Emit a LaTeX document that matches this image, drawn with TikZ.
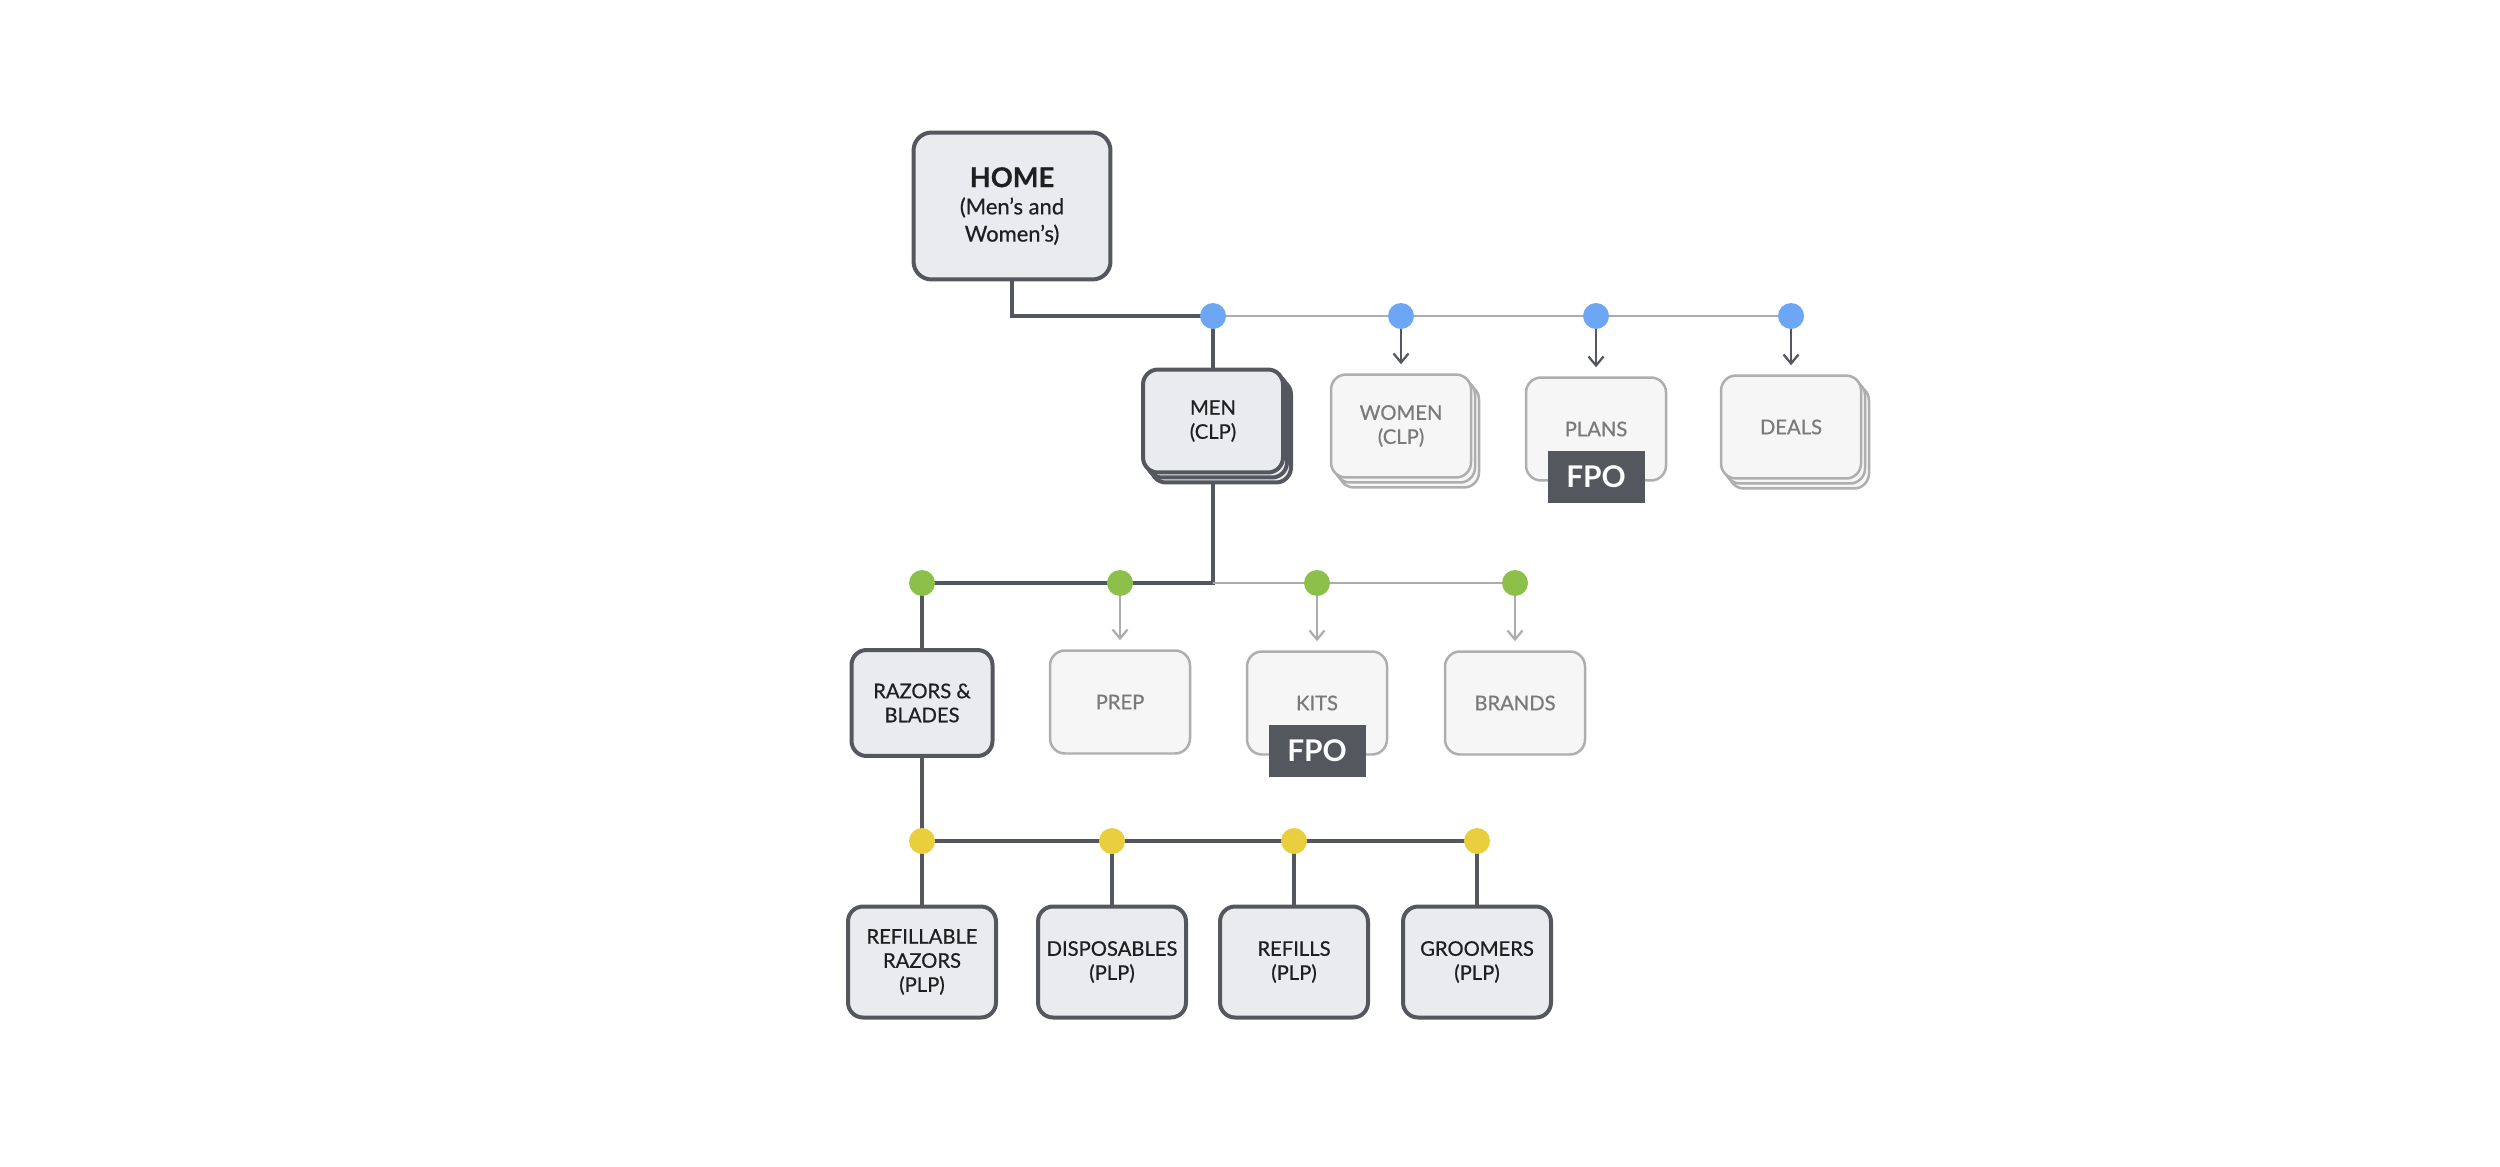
\documentclass[tikz,border=0pt]{standalone}
\usepackage{fontspec}
\setmainfont{Lato}
\newfontfamily\boxfont{Lato}[FakeBold=0.6]
\usetikzlibrary{positioning,shadows,arrows.meta,backgrounds}
\definecolor{slate}{RGB}{85,87,94}
\definecolor{pagefill}{RGB}{234,235,239}
\definecolor{ghostfill}{RGB}{246,246,247}
\definecolor{ghostdraw}{RGB}{174,174,174}
\definecolor{ghosttext}{RGB}{122,122,122}
\definecolor{ghostline}{RGB}{172,172,172}
\definecolor{dotblue}{RGB}{110,166,246}
\definecolor{dotgreen}{RGB}{140,192,74}
\definecolor{dotyellow}{RGB}{233,207,61}
\tikzstyle{pagebox} = [rectangle, rounded corners=0.3cm, draw=slate, line width=0.08cm, fill=pagefill,
  minimum width=2.8cm, minimum height=2.06cm, inner sep=0pt, align=center, text=black!88,
  font=\boxfont\fontsize{11.5}{13.7}\selectfont]
\tikzstyle{ghostbox} = [pagebox, draw=ghostdraw, line width=0.05cm, fill=ghostfill, text=ghosttext]
\tikzstyle{leafbox} = [pagebox, minimum width=2.96cm, minimum height=2.22cm]
\tikzstyle{stack} = [double copy shadow={shadow xshift=0.08cm, shadow yshift=-0.1cm}]
\tikzstyle{dot} = [circle, minimum size=0.52cm, inner sep=0pt]
\tikzstyle{fpo} = [rectangle, fill=slate, text=white, minimum width=1.94cm, minimum height=1.04cm,
  inner sep=0pt, font=\fontsize{17}{17}\selectfont\bfseries]
\tikzstyle{darkline} = [draw=slate, line width=0.07cm]
\tikzstyle{lightline} = [draw=ghostline, line width=0.04cm]
\tikzstyle{arrowdark} = [draw=slate, line width=0.045cm, -{Straight Barb[length=1.8mm, width=3mm]}, shorten >=1.8mm]
\tikzstyle{arrowlight} = [arrowdark, draw=ghostline]

\begin{document}
\begin{tikzpicture}[x=0.02cm, y=-0.02cm]
        \useasboundingbox (0,0) rectangle (2500,1166);
        % Home ------------------------------------------------------------------------------------
        \node[pagebox, minimum width=3.94cm, minimum height=2.94cm, rounded corners=0.36cm, font=\boxfont\fontsize{12.5}{15.5}\selectfont](home) at (1012,206)
            {{\fontsize{15.5}{17}\selectfont\bfseries HOME}\\(Men’s and\\Women’s)};
        % Level 1
        \node[dot, fill=dotblue](d1) at (1213,316){};
        \node[dot, fill=dotblue](d2) at (1401,316){};
        \node[dot, fill=dotblue](d3) at (1596,316){};
        \node[dot, fill=dotblue](d4) at (1791,316){};
        \node[pagebox, stack](men) at (1213,421){MEN\\(CLP)};
        \node[ghostbox, stack](women) at (1401,426){WOMEN\\(CLP)};
        \node[ghostbox](plans) at (1596,429){PLANS};
        \node[fpo](plans_fpo) at ([yshift=0.1cm]plans.south){FPO};
        \node[ghostbox, stack](deals) at (1791,427){DEALS};
        % Men ------------------------------------------------------------------------------------
        \node[dot, fill=dotgreen](g1) at (922,583){};
        \node[dot, fill=dotgreen](g2) at (1120,583){};
        \node[dot, fill=dotgreen](g3) at (1317,583){};
        \node[dot, fill=dotgreen](g4) at (1515,583){};
        \coordinate (men_join) at (men.south |- g1);
        \node[pagebox, minimum width=2.82cm, minimum height=2.12cm](razors) at (922,703){RAZORS \&\\BLADES};
        \node[ghostbox](prep) at (1120,702){PREP};
        \node[ghostbox](kits) at (1317,703){KITS};
        \node[fpo](kits_fpo) at ([yshift=0.1cm]kits.south){FPO};
        \node[ghostbox](brands) at (1515,703){BRANDS};
        % Razors ---------------------------------------------------------------------------------
        \node[dot, fill=dotyellow](y1) at (922,841){};
        \node[dot, fill=dotyellow](y2) at (1112,841){};
        \node[dot, fill=dotyellow](y3) at (1294,841){};
        \node[dot, fill=dotyellow](y4) at (1477,841){};
        \node[leafbox](refillable) at (922,962){REFILLABLE\\RAZORS\\(PLP)};
        \node[leafbox](disposables) at (1112,962){DISPOSABLES\\(PLP)};
        \node[leafbox](refills) at (1294,962){REFILLS\\(PLP)};
        \node[leafbox](groomers) at (1477,962){GROOMERS\\(PLP)};
        % Connectors -----------------------------------------------------------------------------
        \begin{scope}[on background layer]
            \draw[lightline] (d1.center) -- (d4.center);
            \draw[darkline] (home.south) |- (d1.center) -- (men.north);
            \draw[darkline] (men.south) -- (men_join) -- (g1.center) -- (razors.north);
            \draw[lightline] (men_join) -- (g4.center);
            \draw[darkline] (razors.south) -- (y1.center) -- (y4.center);
            \draw[darkline] (y1.center) -- (refillable.north);
            \draw[darkline] (y2.center) -- (disposables.north);
            \draw[darkline] (y3.center) -- (refills.north);
            \draw[darkline] (y4.center) -- (groomers.north);
        \end{scope}
        \draw[arrowdark] (d2) -- (women);
        \draw[arrowdark] (d3) -- (plans);
        \draw[arrowdark] (d4) -- (deals);
        \draw[arrowlight] (g2) -- (prep);
        \draw[arrowlight] (g3) -- (kits);
        \draw[arrowlight] (g4) -- (brands);
    \end{tikzpicture}
\end{document}
